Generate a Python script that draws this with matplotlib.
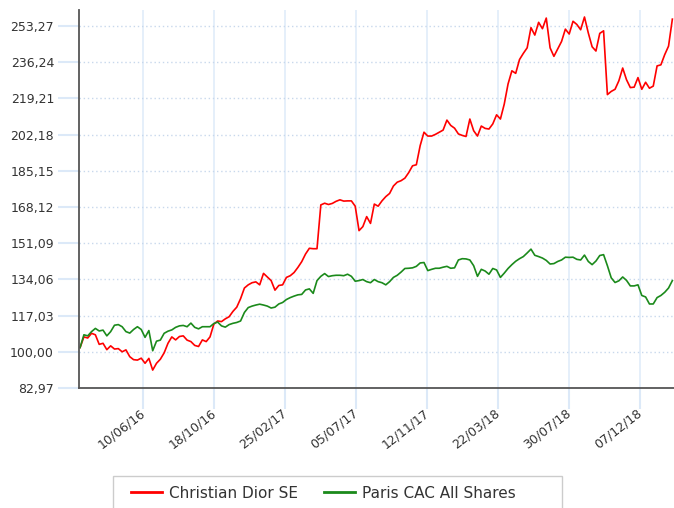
import matplotlib
matplotlib.use('Agg')
import matplotlib.pyplot as plt
from matplotlib.patches import Rectangle
import pandas as pd

# ---- data ----
start_date = '2016-02-15'
n_weeks = 156

dior = [
    102, 107, 106.5, 108.7, 108, 103.5, 104, 101, 102.8, 101.3,
    101.5, 100, 100.9, 97.7, 96.3, 96.1, 97, 94.6, 96.9, 91.4,
    94.6, 96.5, 99.5, 104, 107, 105.6, 107.2, 107.5, 105.5, 104.8,
    103, 102.5, 105.6, 104.8, 107, 113, 114.5, 114.2, 115.5, 116.5,
    119, 121, 125, 130, 131.5, 132.5, 132.9, 131.5, 136.9, 135.2,
    133.5, 129, 131.2, 131.5, 135, 135.8, 137.3, 139.7, 142.4, 146,
    148.7, 148.5, 148.5, 169.1, 169.9, 169.3, 169.8, 170.8, 171.5, 170.9,
    171, 171, 168.5, 157, 158.9, 163.6, 160.4, 169.5, 168.5, 171,
    173, 174.5, 178, 179.8, 180.5, 181.7, 184.3, 187.5, 188, 197,
    203.3, 201.5, 201.5, 202.3, 203.3, 204.3, 209, 206.5, 205.2, 202.5,
    201.8, 201.3, 209.5, 204, 201.5, 206.2, 205.1, 204.8, 207.2, 211.5,
    209.5, 216.5, 226, 232.2, 231, 237.5, 240.4, 243, 252.5, 249,
    255, 252, 257, 243, 239, 242.5, 246, 251.8, 249.5, 255.5,
    254, 251.5, 257.5, 250, 243.5, 241.5, 249.8, 251, 221, 222.5,
    223.5, 227.5, 233.5, 228, 224.3, 224.5, 229, 223.5, 226.8, 224,
    225, 234.5, 235, 239.8, 243.8, 256.5,
]

cac = [
    102, 108, 107.5, 109.5, 111, 109.8, 110.2, 107.5, 109.5, 112.5,
    112.8, 111.8, 109.5, 108.8, 110.5, 111.8, 110.5, 106.8, 110, 100.5,
    105, 105.5, 108.7, 109.7, 110.3, 111.5, 112.2, 112.4, 111.8, 113.5,
    111.5, 110.8, 111.8, 111.8, 111.8, 113.3, 114, 112.2, 111.6, 112.8,
    113.4, 113.8, 114.5, 118.5, 120.8, 121.5, 122, 122.4, 122, 121.5,
    120.6, 121, 122.5, 123.2, 124.6, 125.5, 126.2, 126.8, 127, 129.1,
    129.6, 127.5, 133.5, 135.5, 136.8, 135.4, 135.8, 136, 136, 135.8,
    136.5, 135.5, 133.2, 133.5, 134, 133, 132.5, 134, 133, 132.5,
    131.5, 133, 135, 136, 137.5, 139.2, 139.3, 139.5, 140.2, 141.8,
    142, 138.2, 138.8, 139.3, 139.3, 139.8, 140.2, 139.3, 139.5, 143.2,
    143.8, 143.7, 143.2, 140.5, 135.5, 138.8, 138, 136.5, 139.2, 138.5,
    135, 137, 139.2, 141, 142.6, 143.8, 144.8, 146.5, 148.3, 145.4,
    144.8, 144.1, 143, 141.3, 141.5, 142.5, 143.2, 144.5, 144.4, 144.5,
    143.5, 143.2, 145.5, 142.5, 141, 142.7, 145.3, 145.7, 140.5, 134.8,
    132.6, 133.4, 135.2, 133.6, 131, 131, 131.5, 126.5, 125.8, 122.5,
    122.5, 125.5, 126.5, 128, 130, 133.5,
]

series_names = ['Christian Dior SE', 'Paris CAC All Shares']
ytick_labels = ['82,97', '100,00', '117,03', '134,06', '151,09', '168,12',
                '185,15', '202,18', '219,21', '236,24', '253,27']
xtick_dates = ['2016-06-10', '2016-10-18', '2017-02-25', '2017-07-05',
               '2017-11-12', '2018-03-22', '2018-07-30', '2018-12-07']

# ---- plot ----
dates = pd.date_range(start_date, periods=n_weeks, freq='7D')
W, H = 674, 508
fig = plt.figure(figsize=(W / 100, H / 100), dpi=100)
ax = fig.add_axes([79 / W, 1 - 388 / H, 1 - 79 / W, (388 - 10) / H])

ax.plot(dates, dior, color='#ff0000', lw=1.2, label=series_names[0], zorder=3)
ax.plot(dates, cac, color='#1b8a1b', lw=1.2, label=series_names[1], zorder=3)

ax.set_xlim(pd.Timestamp('2016-02-13'), pd.Timestamp('2019-02-07'))
ax.set_ylim(82.97, 260.8)

yvals = [float(s.replace(',', '.')) for s in ytick_labels]
ax.set_yticks(yvals)
ax.set_yticklabels(ytick_labels)
xt = pd.to_datetime(xtick_dates)
ax.set_xticks(xt)
ax.set_xticklabels([d.strftime('%d/%m/%y') for d in xt])

ax.tick_params(axis='y', length=15, color='#dce9f8', width=1.5,
               labelsize=9, labelcolor='#333333', pad=3)
ax.tick_params(axis='x', length=15, color='#dce9f8', width=1.5,
               labelsize=9, labelcolor='#333333', pad=2)
for lbl in ax.get_xticklabels():
    lbl.set_rotation(38)
    lbl.set_ha('right')
    lbl.set_va('center')
    lbl.set_rotation_mode('anchor')

ax.yaxis.grid(True, linestyle=(0, (1, 2)), color='#c8d8ec', lw=1)
ax.xaxis.grid(True, linestyle='-', color='#e3eefa', lw=1.3)
ax.set_axisbelow(True)

for s in ['top', 'right']:
    ax.spines[s].set_visible(False)
for s in ['left', 'bottom']:
    ax.spines[s].set_color('#555555')
    ax.spines[s].set_linewidth(1.3)
    ax.spines[s].set_zorder(4)

handles, labels = ax.get_legend_handles_labels()
leg = fig.legend(handles, labels, loc='center left',
                 bbox_to_anchor=(125 / W, 1 - 493 / H), ncol=2, frameon=False,
                 borderaxespad=0, handlelength=2.0, handletextpad=0.5,
                 columnspacing=1.7, fontsize=11)
for t in leg.get_texts():
    t.set_color('#333333')
for lh in leg.get_lines():
    lh.set_linewidth(2)

fig.add_artist(Rectangle((113 / W, -0.02), (562 - 113) / W, (1 - 476 / H) + 0.02,
                         transform=fig.transFigure, fill=False,
                         edgecolor='#cccccc', lw=1))

fig.savefig('out.png', dpi=100)
